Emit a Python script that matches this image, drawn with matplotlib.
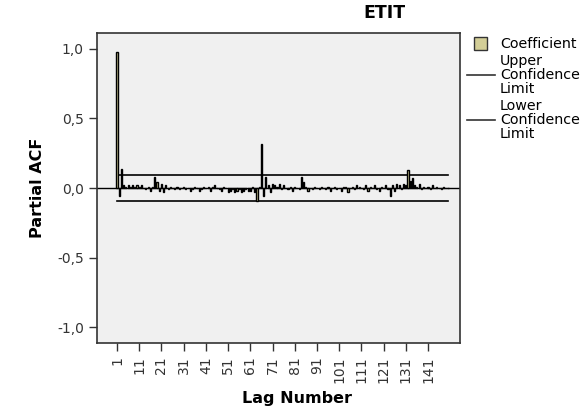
import numpy as np
import matplotlib.pyplot as plt
from matplotlib.patches import Rectangle
from matplotlib.lines import Line2D

title = "ETIT"
lags = np.arange(1, 151)
pacf = [
    0.98, -0.06, 0.14, 0.02, 0.01, 0.02, 0.01, 0.02, 0.01, 0.02,
    0.01, 0.02, 0.00, -0.01, 0.01, -0.02, 0.01, 0.08, 0.04, -0.02,
    0.03, -0.03, 0.02, -0.01, 0.01, 0.00, -0.01, 0.01, -0.01, 0.00,
    0.01, -0.01, 0.00, -0.02, -0.01, 0.01, 0.00, -0.02, -0.01, 0.01,
    0.00, 0.01, -0.02, 0.01, 0.02, 0.00, -0.01, -0.02, 0.01, 0.00,
    -0.03, -0.02, -0.01, -0.03, -0.02, -0.01, -0.03, -0.02, -0.01, -0.02,
    -0.02, 0.01, -0.03, -0.09, 0.01, 0.32, -0.06, 0.08, 0.02, -0.03,
    0.03, 0.02, 0.01, 0.03, -0.01, 0.02, 0.00, -0.01, 0.01, -0.02,
    0.01, 0.00, -0.01, 0.08, 0.04, 0.01, -0.02, 0.00, -0.01, 0.01,
    0.00, -0.01, 0.01, 0.00, -0.01, 0.01, -0.02, 0.00, 0.01, -0.01,
    0.00, -0.02, 0.01, 0.01, -0.03, 0.00, 0.01, -0.01, 0.02, 0.01,
    0.00, -0.01, 0.02, -0.02, 0.01, 0.00, 0.02, -0.01, -0.02, 0.01,
    0.00, 0.02, -0.01, -0.06, 0.02, -0.02, 0.03, 0.02, -0.01, 0.03,
    0.02, 0.13, 0.05, 0.07, 0.02, 0.01, 0.03, -0.01, 0.01, 0.00,
    0.01, -0.01, 0.02, 0.00, 0.01, 0.00, -0.01, 0.01, 0.00, 0.00,
]
upper = 0.094
lower = -0.094
xticks = list(range(1, 151, 10))
yticks = [-1.0, -0.5, 0.0, 0.5, 1.0]
ytick_labels = ["-1,0", "-0,5", "0,0", "0,5", "1,0"]

tan = "#d3ce97"
W, H = 585, 413
fig = plt.figure(figsize=(W / 100, H / 100), dpi=100)
ax = fig.add_axes([97 / W, 1 - 343 / H, 363 / W, 310 / H])
ax.set_facecolor("#f0f0f0")

ax.bar(lags, pacf, width=0.5, color=tan, edgecolor="black", linewidth=1.0, zorder=3)
ax.plot(lags, [upper] * len(lags), color="black", lw=1.2, zorder=2)
ax.plot(lags, [lower] * len(lags), color="black", lw=1.2, zorder=2)
ax.axhline(0, color="black", lw=1.0, zorder=2)

ax.set_xlim(-8.0, 155.4)
ax.set_ylim(-1.115, 1.115)
ax.set_xticks(xticks)
ax.set_xticklabels([str(t) for t in xticks], rotation=90, fontsize=10, color="#333333")
ax.set_yticks(yticks)
ax.set_yticklabels(ytick_labels, fontsize=10, color="#333333")
ax.tick_params(direction="out", length=6, width=1, color="#333333")
for s in ax.spines.values():
    s.set_color("#333333")
    s.set_linewidth(1.2)

fig.text(384 / W, 1 - 13 / H, title, ha="center", va="center", fontsize=12.5, fontweight="bold")
fig.text(38 / W, 1 - 188 / H, "Partial ACF", ha="center", va="center", rotation=90,
         fontsize=11.5, fontweight="bold")
fig.text(297 / W, 1 - 398 / H, "Lag Number", ha="center", va="center",
         fontsize=11.5, fontweight="bold")

# legend, drawn by hand
fig.add_artist(Rectangle((474 / W, 1 - 50 / H), 13 / W, 13 / H, facecolor=tan,
                         edgecolor="#333333", lw=1, transform=fig.transFigure))
fig.text(500 / W, 1 - 44 / H, "Coefficient", ha="left", va="center", fontsize=10.3)
for yl, lab in [(75, "Upper"), (120, "Lower")]:
    fig.add_artist(Line2D([467 / W, 495 / W], [1 - yl / H, 1 - yl / H], color="#333333",
                          lw=1.2, transform=fig.transFigure))
    fig.text(500 / W, 1 - yl / H, lab + "\nConfidence\nLimit", ha="left", va="center",
             fontsize=10.3, linespacing=0.97)

fig.savefig("out.png", dpi=100)
